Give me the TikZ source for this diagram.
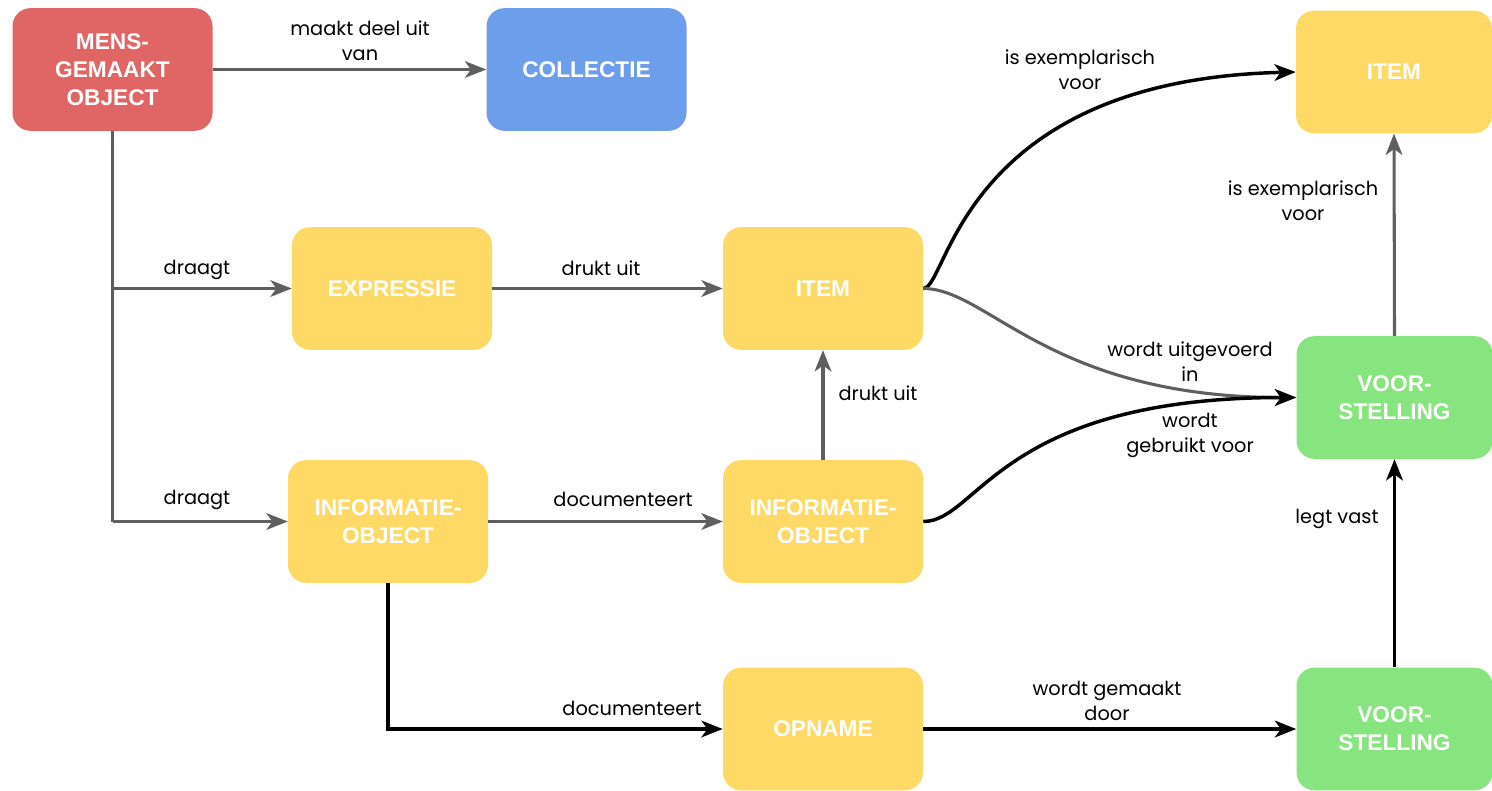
\documentclass[tikz,border=0pt]{standalone}
\usepackage{fontspec}
\setmainfont{Poppins}
\newfontfamily\nodefont{Liberation Sans}
\usetikzlibrary{arrows.meta}
\definecolor{cred}{HTML}{E06666}
\definecolor{cblue}{HTML}{6D9EEB}
\definecolor{cyel}{HTML}{FFD966}
\definecolor{cgreen}{HTML}{86E57E}
\definecolor{cgray}{HTML}{5F5F5F}
\tikzset{
  box/.style={rounded corners=13.5pt, inner sep=0pt, align=center, text=white,
    font=\nodefont\bfseries\fontsize{17pt}{21pt}\selectfont,
    minimum width=150pt, minimum height=92pt},
  rbox/.style={box, minimum width=147pt},
  lbl/.style={align=center, inner sep=0pt, font=\fontsize{14.5pt}{18.75pt}\selectfont, text=black},
  arr/.style={-{Stealth[length=16pt,width=12.5pt,inset=4.5pt]}},
  gline/.style={draw=cgray, line width=2.3pt, arr},
  bline/.style={draw=black, line width=2.6pt, arr},
}
\begin{document}
\begin{tikzpicture}[x=0.75pt,y=-0.75pt]
\useasboundingbox (0,0) rectangle (1492,790);
% nodes
\node[box, fill=cred] (mens) at (112.5,69.5) {MENS-\\GEMAAKT\\OBJECT};
\node[box, fill=cblue] (coll) at (586.5,69.5) {COLLECTIE};
\node[rbox, fill=cyel] (itemT) at (1394,72) {ITEM};
\node[box, fill=cyel] (expr) at (392,288.5) {EXPRESSIE};
\node[box, fill=cyel] (itemM) at (823,288.5) {ITEM};
\node[box, fill=cyel] (infoL) at (388,521.5) {INFORMATIE-\\OBJECT};
\node[box, fill=cyel] (infoM) at (823,521.5) {INFORMATIE-\\OBJECT};
\node[rbox, fill=cgreen] (voorT) at (1394.5,397.5) {VOOR-\\STELLING};
\node[box, fill=cyel] (opname) at (823,729) {OPNAME};
\node[rbox, fill=cgreen] (voorB) at (1394.5,729) {VOOR-\\STELLING};
% connectors
\draw[gline] (mens.east) -- (coll.west);
\draw[draw=cgray, line width=2.3pt] (mens.south) -- (mens.south |- infoL.west);
\draw[gline] (mens.south |- expr.west) -- (expr.west);
\draw[gline] (mens.south |- infoL.west) -- (infoL.west);
\draw[gline] (expr.east) -- (itemM.west);
\draw[gline] (infoL.east) -- (infoM.west);
\draw[gline] (infoM.north) -- (itemM.south);
\draw[bline] (itemM.east) .. controls +(25,0) and +(-336,8) .. (itemT.west);
\draw[gline] (itemM.east) .. controls +(65,0) and +(-247,0) .. (voorT.west);
\draw[bline] (infoM.east) .. controls +(55,0) and +(-297,0) .. (voorT.west);
\draw[gline] (voorT.north) -- (itemT.south);
\draw[bline] (voorB.north) -- (voorT.south);
\draw[bline] (infoL.south) |- (opname.west);
\draw[bline] (opname.east) -- (voorB.west);
% labels
\node[lbl] (l1) at (360,40.5) {maakt deel uit\\van};
\node[lbl] (l2) at (197,270) {draagt};
\node[lbl] (l3) at (197,500) {draagt};
\node[lbl] (l4) at (601,268) {drukt uit};
\node[lbl] (l5) at (623,499) {documenteert};
\node[lbl] (l6) at (878,393) {drukt uit};
\node[lbl] (l7) at (1080,70) {is exemplarisch\\voor};
\node[lbl] (l8) at (1190,361.5) {wordt uitgevoerd\\in};
\node[lbl] (l9) at (1190,435.5) {wordt\\gebruikt voor};
\node[lbl] (l10) at (1303,200.5) {is exemplarisch\\voor};
\node[lbl] (l11) at (1337,519) {legt vast};
\node[lbl] (l12) at (632,708) {documenteert};
\node[lbl] (l13) at (1107,701) {wordt gemaakt\\door};
\end{tikzpicture}
\end{document}
